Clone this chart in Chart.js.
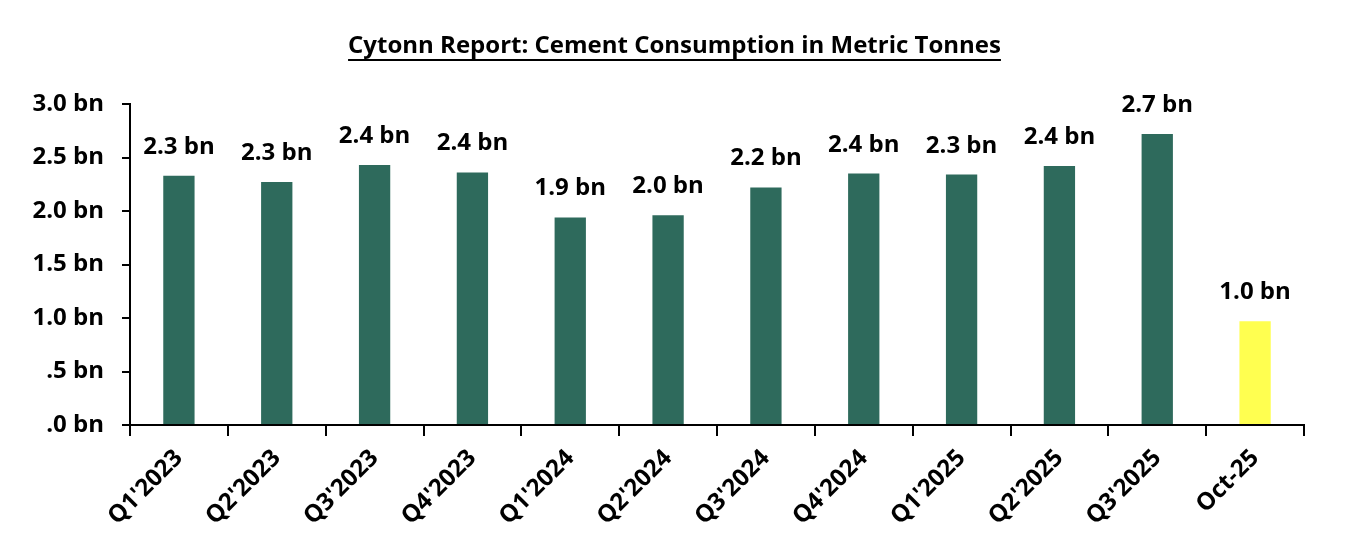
<!DOCTYPE html>
<html>
<head>
<meta charset="utf-8">
<script src="https://cdn.jsdelivr.net/npm/chart.js@4"></script>
<style>
  html, body { margin: 0; padding: 0; background: #fff; }
  #wrap { width: 1362px; height: 556px; }
</style>
</head>
<body>
<div id="wrap"><canvas id="myChart" width="1362" height="556"></canvas></div>
<script>
'use strict';

// quarterly cement consumption, billions of tonnes
let quarters = ["Q1'2023", "Q2'2023", "Q3'2023", "Q4'2023", "Q1'2024", "Q2'2024",
  "Q3'2024", "Q4'2024", "Q1'2025", "Q2'2025", "Q3'2025", 'Oct-25'];
let consumption = [2.33, 2.27, 2.43, 2.36, 1.94, 1.96, 2.22, 2.35, 2.34, 2.42, 2.72, 0.97];
let barColors = ['#2e6a5c', '#2e6a5c', '#2e6a5c', '#2e6a5c', '#2e6a5c', '#2e6a5c',
  '#2e6a5c', '#2e6a5c', '#2e6a5c', '#2e6a5c', '#2e6a5c', '#ffff50'];
let yMin = 0;
let yMax = 3;
let yStep = 0.5;
let chartTitle = 'Cytonn Report: Cement Consumption in Metric Tonnes';

let fontFamily = '"Open Sans", "Liberation Sans", sans-serif';
let titleSize = 24;
let labelSize = 24;

function bnLabel(v) {
  return v.toFixed(1).replace(/^0/, '') + ' bn';
}

// value labels over each bar
let barLabels = {
  id: 'barLabels',
  afterDatasetsDraw(chart) {
    let ctx = chart.ctx;
    let meta = chart.getDatasetMeta(0);
    ctx.save();
    ctx.font = 'bold ' + labelSize + 'px ' + fontFamily;
    ctx.fillStyle = '#000';
    ctx.textAlign = 'center';
    ctx.textBaseline = 'alphabetic';
    meta.data.forEach(function (bar, i) {
      ctx.fillText(Number(consumption[i].toFixed(1)).toFixed(1) + ' bn', bar.x, bar.y - 22);
    });
    ctx.restore();
  }
};

// title sits a bit left of the canvas centre, and is underlined
let titleUnderline = {
  id: 'titleUnderline',
  afterLayout(chart) {
    if (chart.titleBlock) chart.titleBlock.left = 45;
  },
  afterDraw(chart) {
    let t = chart.titleBlock;
    if (!t) return;
    let ctx = chart.ctx;
    ctx.save();
    ctx.font = 'bold ' + titleSize + 'px ' + fontFamily;
    let w = ctx.measureText(chartTitle).width;
    let cx = (t.left + t.right) / 2;
    let y = t.top + t.options.padding.top + 28;
    ctx.strokeStyle = '#000';
    ctx.lineWidth = 2;
    ctx.beginPath();
    ctx.moveTo(cx - w / 2, y);
    ctx.lineTo(cx + w / 2, y);
    ctx.stroke();
    ctx.restore();
  }
};

function chart() {
  let ctx = document.getElementById('myChart');
  let myChart = new Chart(ctx, {
    type: 'bar',
    data: {
      labels: quarters,
      datasets: [{
        data: consumption,
        backgroundColor: barColors,
        borderWidth: 0,
        barPercentage: 0.32,
        categoryPercentage: 1
      }]
    },
    options: {
      responsive: false,
      animation: false,
      layout: { padding: { left: 0, right: 58, top: 0, bottom: 0 } },
      plugins: {
        legend: { display: false },
        tooltip: { enabled: false },
        title: {
          display: true,
          text: chartTitle,
          color: '#000',
          font: { family: fontFamily, size: titleSize, weight: 'bold', lineHeight: 1.2 },
          padding: { top: 32, bottom: 43.2 }
        }
      },
      scales: {
        x: {
          afterFit(scale) { scale.height = 131; },
          border: { color: '#000', width: 2 },
          grid: { display: true, drawOnChartArea: false, drawTicks: true, tickLength: 11, color: '#000', lineWidth: 2, offset: true },
          ticks: {
            color: '#000',
            font: { family: fontFamily, size: labelSize, weight: 'bold' },
            maxRotation: 45,
            minRotation: 45,
            padding: 8,
            autoSkip: false
          }
        },
        y: {
          min: yMin,
          max: yMax,
          afterFit(scale) { scale.width = 130; },
          border: { color: '#000', width: 2 },
          grid: { display: true, drawOnChartArea: false, drawTicks: true, tickLength: 8, color: '#000', lineWidth: 2 },
          ticks: {
            stepSize: yStep,
            color: '#000',
            padding: 18,
            font: { family: fontFamily, size: labelSize, weight: 'bold' },
            callback: function (v) { return bnLabel(v); }
          }
        }
      }
    },
    plugins: [barLabels, titleUnderline]
  });
  return myChart;
}

chart();
</script>
</body>
</html>
